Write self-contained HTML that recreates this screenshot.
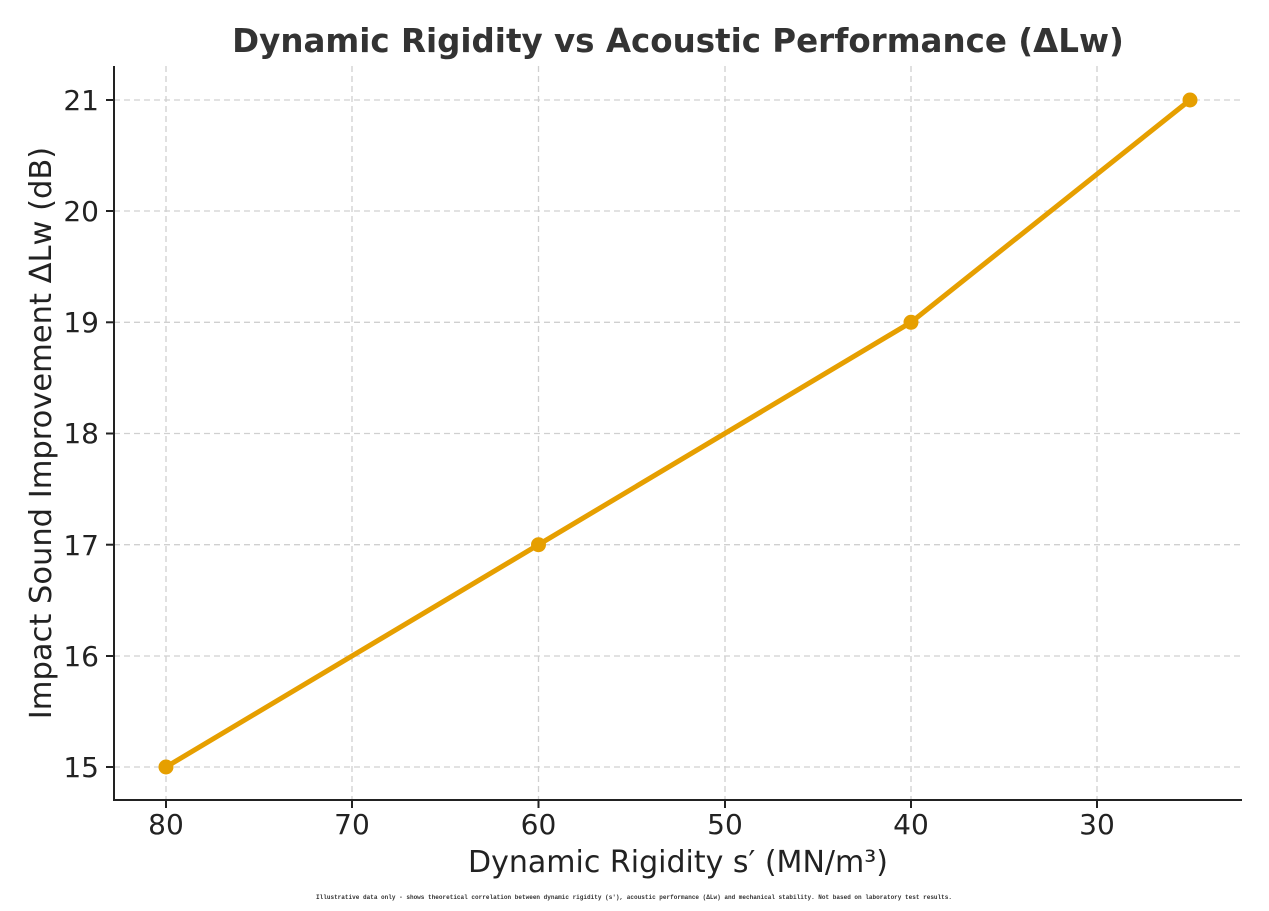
<!DOCTYPE html>
<html><head><meta charset="utf-8"><style>body{margin:0;background:#fff}</style></head><body>
<svg width="1269" height="906" xmlns="http://www.w3.org/2000/svg" font-family="'DejaVu Sans', 'Liberation Sans', sans-serif">
<rect width="1269" height="906" fill="#fff"/>
<g stroke="#d0d0d0" stroke-width="1.3" stroke-dasharray="6,4">
<line x1="166" y1="66" x2="166" y2="800"/><line x1="352" y1="66" x2="352" y2="800"/><line x1="538.5" y1="66" x2="538.5" y2="800"/><line x1="725" y1="66" x2="725" y2="800"/><line x1="911" y1="66" x2="911" y2="800"/><line x1="1097" y1="66" x2="1097" y2="800"/>
<line x1="114" y1="100" x2="1242" y2="100"/><line x1="114" y1="211" x2="1242" y2="211"/><line x1="114" y1="322.3" x2="1242" y2="322.3"/><line x1="114" y1="433.5" x2="1242" y2="433.5"/><line x1="114" y1="544.7" x2="1242" y2="544.7"/><line x1="114" y1="656" x2="1242" y2="656"/><line x1="114" y1="767" x2="1242" y2="767"/>
</g>
<g stroke="#222" stroke-width="2">
<line x1="114" y1="66" x2="114" y2="801"/><line x1="113" y1="800" x2="1242" y2="800"/>
<line x1="166" y1="800" x2="166" y2="808"/><line x1="352" y1="800" x2="352" y2="808"/><line x1="538.5" y1="800" x2="538.5" y2="808"/><line x1="725" y1="800" x2="725" y2="808"/><line x1="911" y1="800" x2="911" y2="808"/><line x1="1097" y1="800" x2="1097" y2="808"/>
<line x1="106" y1="100" x2="114" y2="100"/><line x1="106" y1="211" x2="114" y2="211"/><line x1="106" y1="322.3" x2="114" y2="322.3"/><line x1="106" y1="433.5" x2="114" y2="433.5"/><line x1="106" y1="544.7" x2="114" y2="544.7"/><line x1="106" y1="656" x2="114" y2="656"/><line x1="106" y1="767" x2="114" y2="767"/>
</g>
<g font-size="28" fill="#222" text-anchor="middle">
<text x="166" y="834">80</text><text x="352" y="834">70</text><text x="538.5" y="834">60</text><text x="725" y="834">50</text><text x="911" y="834">40</text><text x="1097" y="834">30</text>
</g>
<g font-size="28" fill="#222" text-anchor="end">
<text x="99" y="110">21</text><text x="99" y="221">20</text><text x="99" y="332">19</text><text x="99" y="443">18</text><text x="99" y="555">17</text><text x="99" y="666">16</text><text x="99" y="777">15</text>
</g>
<polyline points="166,767 538.5,544.7 911,322.3 1190,100" fill="none" stroke="#e69f00" stroke-width="5" stroke-linejoin="round"/>
<g fill="#e69f00"><circle cx="166" cy="767" r="7.5"/><circle cx="538.5" cy="544.7" r="7.5"/><circle cx="911" cy="322.3" r="7.5"/><circle cx="1190" cy="100" r="7.5"/></g>
<text x="678" y="52" font-size="32.5" font-weight="bold" fill="#333" text-anchor="middle">Dynamic Rigidity vs Acoustic Performance (ΔLw)</text>
<text x="678" y="872" font-size="30" fill="#222" text-anchor="middle">Dynamic Rigidity s′ (MN/m³)</text>
<text transform="translate(51,433) rotate(-90)" font-size="30.5" fill="#222" text-anchor="middle">Impact Sound Improvement ΔLw (dB)</text>
<text x="634" y="899" font-size="6" font-family="'Liberation Mono', monospace" font-weight="bold" fill="#333" text-anchor="middle" textLength="636">Illustrative data only - shows theoretical correlation between dynamic rigidity (s′), acoustic performance (ΔLw) and mechanical stability. Not based on laboratory test results.</text>
</svg>
</body></html>
